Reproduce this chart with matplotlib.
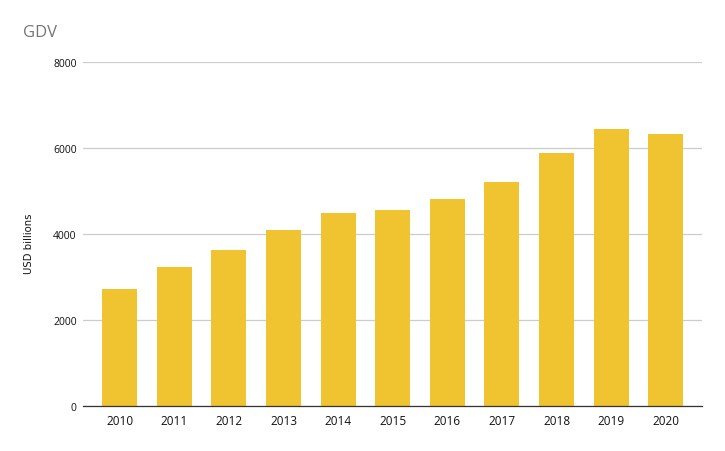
import matplotlib
matplotlib.use('Agg')
import matplotlib.pyplot as plt

# GDV per year, USD billions
years = ['2010', '2011', '2012', '2013', '2014', '2015', '2016', '2017', '2018', '2019', '2020']
gdv = [2725, 3235, 3630, 4100, 4495, 4565, 4820, 5215, 5890, 6450, 6330]

plt.rcParams['font.family'] = ['Open Sans', 'DejaVu Sans']

fig = plt.figure(figsize=(7.25, 4.52), dpi=100)
ax = fig.add_axes([0.1145, 0.0996, 0.8535, 0.761])

ax.bar(range(len(years)), gdv, width=0.64, color='#F0C331', zorder=2)

ax.set_xlim(-0.67, len(years) - 0.34)
ax.set_ylim(0, 8000)
ax.set_yticks([0, 2000, 4000, 6000, 8000])
ax.set_xticks(range(len(years)))
ax.set_xticklabels(years)

ax.grid(axis='y', color='#cccccc', linewidth=0.9, zorder=0)
for s in ['top', 'right', 'left']:
    ax.spines[s].set_visible(False)
ax.spines['bottom'].set_color('#333333')
ax.spines['bottom'].set_linewidth(0.9)
ax.tick_params(axis='y', length=0, labelsize=7.5, pad=4.5, colors='#111111')
ax.tick_params(axis='x', length=0, labelsize=8.5, pad=5.5, colors='#111111')

# y label placed by hand, a bit wider letter spacing in the original
fig.text(29 / 725, 1 - 243.5 / 452, 'USD billions', fontsize=7.3, rotation=90,
         ha='center', va='center', family='DejaVu Sans', color='#111111')
fig.text(0.032, 0.927, 'GDV', fontsize=12, color='#757575', va='center')

fig.savefig('out.png', dpi=100)
